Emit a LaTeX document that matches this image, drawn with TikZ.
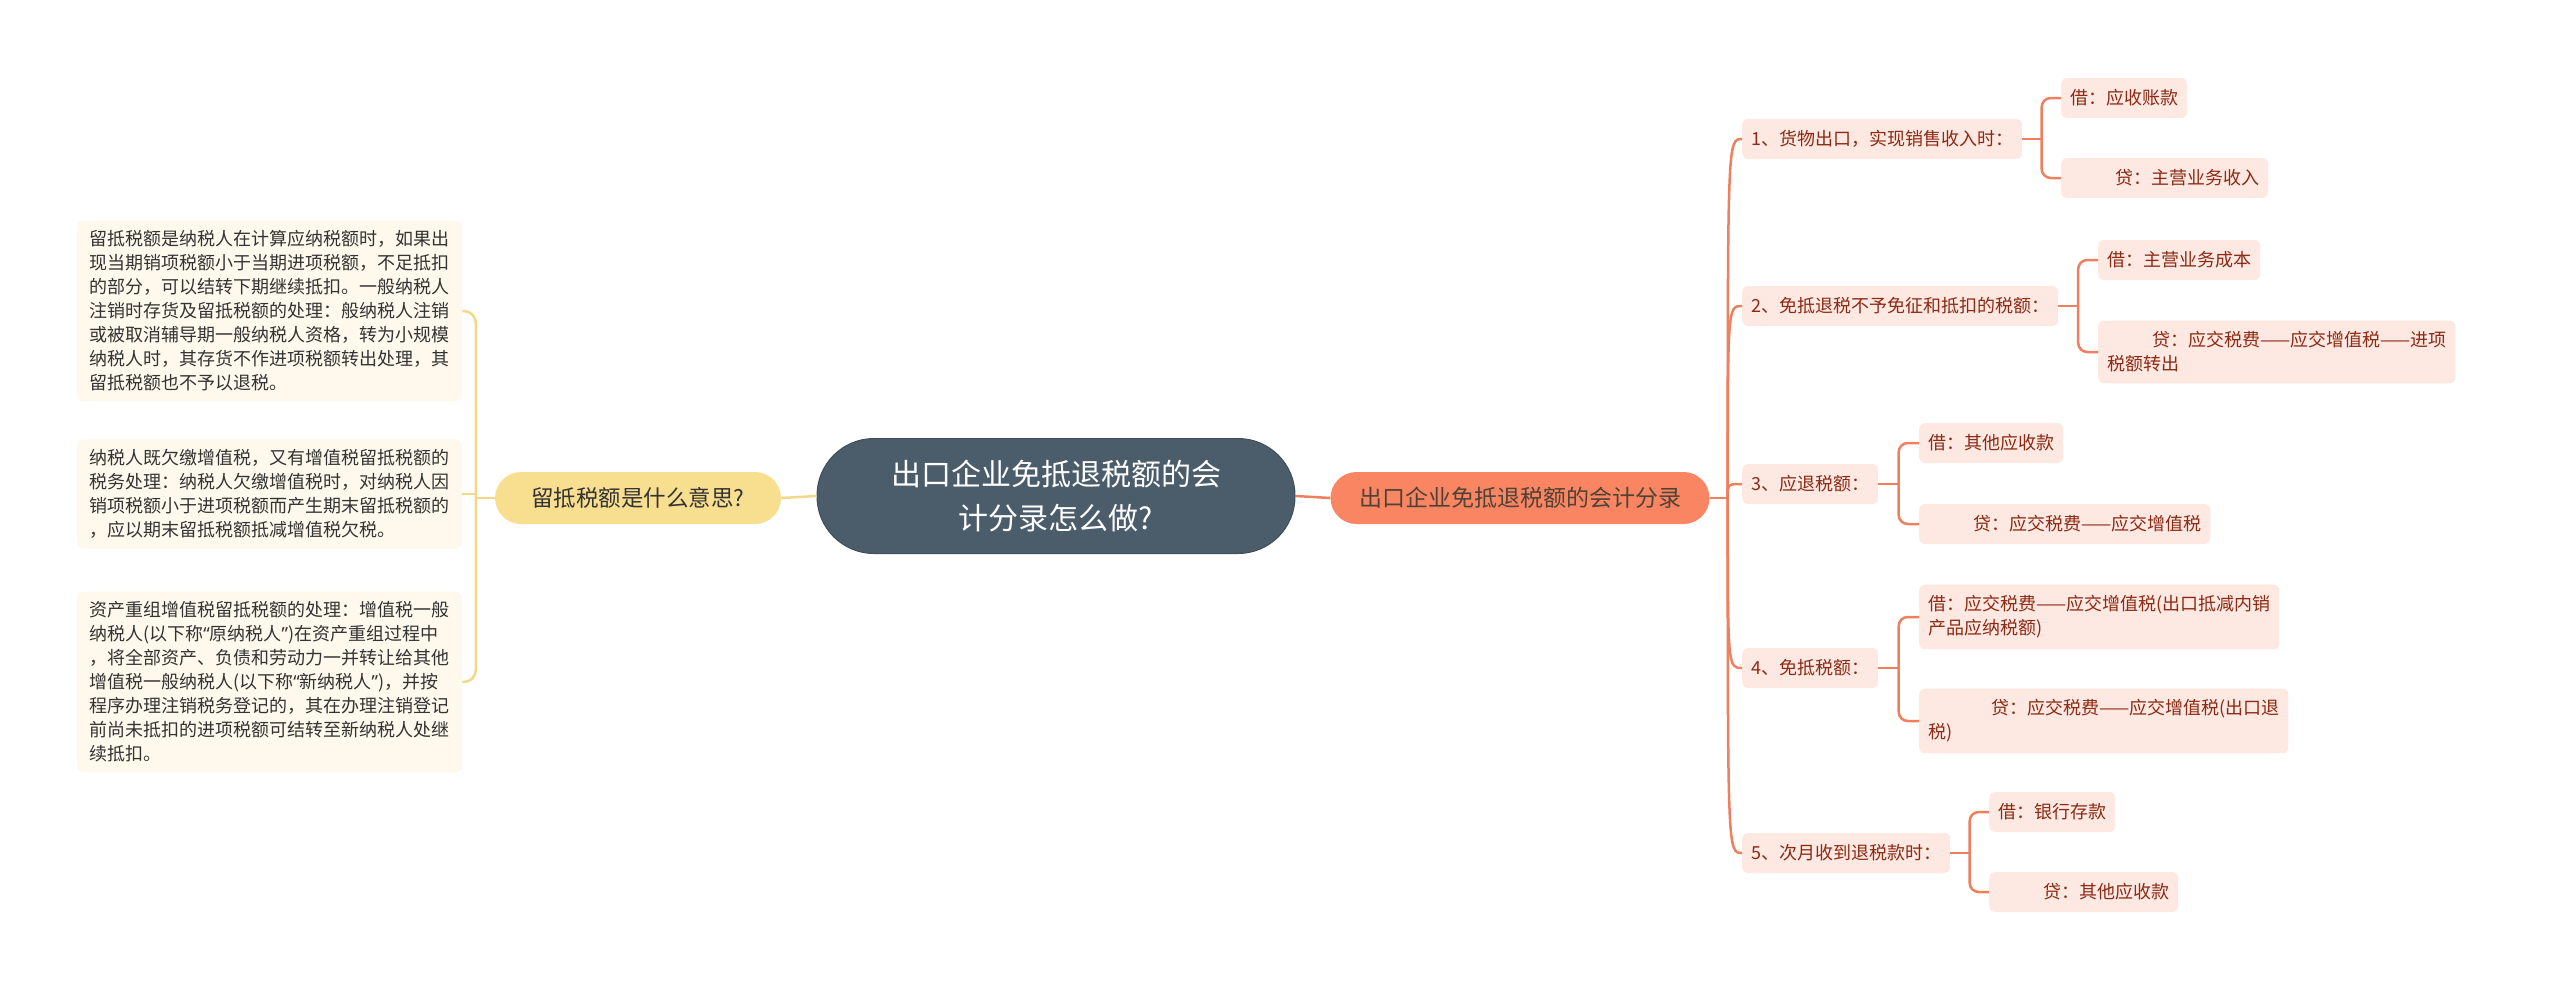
\documentclass[tikz,border=0pt]{standalone}
\usepackage{fontspec}
\setmainfont{Noto Sans CJK SC}
\newfontfamily\quotefont{Noto Sans}
\newcommand{\qopen}{{\quotefont “}}
\newcommand{\qclose}{{\quotefont ”}}
\usetikzlibrary{calc}

\definecolor{rootfill}{HTML}{4B5C6B}
\definecolor{rootedge}{HTML}{3F4E5B}
\definecolor{topicfill}{HTML}{F8DE8F}
\definecolor{yeline}{HTML}{F4D88A}
\definecolor{notefill}{HTML}{FEF9EC}
\definecolor{notetext}{HTML}{333333}
\definecolor{branchfill}{HTML}{FA8563}
\definecolor{orline}{HTML}{EE7F5F}
\definecolor{entryfill}{HTML}{FDE8E2}
\definecolor{entrytext}{HTML}{8C2A14}

\begin{document}
\begin{tikzpicture}[x=1pt,y=-1pt,
    note/.style={fill=notefill, rounded corners=6pt, text=notetext, align=left,
        text width=361pt, inner xsep=12pt, inner ysep=10pt, anchor=west,
        font=\fontsize{18}{24}\selectfont},
    entry/.style={fill=entryfill, rounded corners=6pt, text=entrytext, align=left,
        minimum height=40pt, inner xsep=9pt, inner ysep=11pt, anchor=west,
        font=\fontsize{18}{24}\selectfont},
    pill/.style={rounded corners=26pt, minimum height=52pt, align=center},
    yelink/.style={draw=yeline, line width=2.5pt},
    orlink/.style={draw=orline, line width=2.5pt}]

    \useasboundingbox (0,0) rectangle (2560,993);

    % Centre
    \node [pill, fill=rootfill, draw=rootedge, line width=1pt, text=white,
        rounded corners=57pt, minimum width=478pt, minimum height=115pt,
        font=\fontsize{30}{44}\selectfont] (root) at (1056,496)
        {出口企业免抵退税额的会\\计分录怎么做?};

    % Left side
    \node [pill, fill=topicfill, text=notetext, minimum width=286pt,
        font=\fontsize{22.5}{27}\selectfont] (topic) at (638,498) {留抵税额是什么意思?};

    \node [note] (note1) at (77,311) {留抵税额是纳税人在计算应纳税额时，如果出\\现当期销项税额小于当期进项税额，不足抵扣\\的部分，可以结转下期继续抵扣。一般纳税人\\注销时存货及留抵税额的处理：般纳税人注销\\或被取消辅导期一般纳税人资格，转为小规模\\纳税人时，其存货不作进项税额转出处理，其\\留抵税额也不予以退税。};
    \node [note] (note2) at (77,494) {纳税人既欠缴增值税，又有增值税留抵税额的\\税务处理：纳税人欠缴增值税时，对纳税人因\\销项税额小于进项税额而产生期末留抵税额的\\，应以期末留抵税额抵减增值税欠税。};
    \node [note] (note3) at (77,682) {资产重组增值税留抵税额的处理：增值税一般\\纳税人(以下称\qopen 原纳税人\qclose)在资产重组过程中\\，将全部资产、负债和劳动力一并转让给其他\\增值税一般纳税人(以下称\qopen 新纳税人\qclose)，并按\\程序办理注销税务登记的，其在办理注销登记\\前尚未抵扣的进项税额可结转至新纳税人处继\\续抵扣。};

    \draw [yelink] (root.west) -- (topic.east);
    \coordinate (lj) at ($(topic.west)+(-19,0)$);
    \draw [yelink] (topic.west) -- (lj);
    \draw [yelink, rounded corners=12pt] (note1.east) -| (lj) |- (note3.east);
    \draw [yelink] (note2.east) -- (note2.east -| lj);

    % Right side
    \node [pill, fill=branchfill, text=notetext!80!brown, minimum width=379pt,
        font=\fontsize{23}{27}\selectfont] (branch) at (1520,498) {出口企业免抵退税额的会计分录};
    \draw [orlink] (root.east) -- (branch.west);

    \node [entry] (n1) at (1742,139) {1、货物出口，实现销售收入时：};
    \node [entry] (deb1) at (2061,98) {借：应收账款};
    \node [entry] (cre1) at (2061,178) {\hspace*{2.5em}贷：主营业务收入};

    \node [entry] (n2) at (1742,306) {2、免抵退税不予免征和抵扣的税额：};
    \node [entry] (deb2) at (2098,260) {借：主营业务成本};
    \node [entry] (cre2) at (2098,352) {\hspace*{2.5em}贷：应交税费——应交增值税——进项\\税额转出};

    \node [entry] (n3) at (1742,484) {3、应退税额：};
    \node [entry] (deb3) at (1919,443) {借：其他应收款};
    \node [entry] (cre3) at (1919,524) {\hspace*{2.5em}贷：应交税费——应交增值税};

    \node [entry] (n4) at (1742,668) {4、免抵税额：};
    \node [entry] (deb4) at (1919,617) {借：应交税费——应交增值税(出口抵减内销\\产品应纳税额)};
    \node [entry] (cre4) at (1919,721) {\hspace*{3.5em}贷：应交税费——应交增值税(出口退\\税)};

    \node [entry] (n5) at (1742,853) {5、次月收到退税款时：};
    \node [entry] (deb5) at (1989,812) {借：银行存款};
    \node [entry] (cre5) at (1989,892) {\hspace*{2.5em}贷：其他应收款};

    \coordinate (rj) at ($(branch.east)+(18,0)$);
    \draw [orlink] (branch.east) -- (rj);

    \foreach \i in {1,...,5} {
        \draw [orlink] (rj) .. controls (rj |- n\i.west) .. (n\i.west);
        \coordinate (t\i) at ($(n\i.east)!0.5!(n\i.east -| deb\i.west)$);
        \draw [orlink] (n\i.east) -- (t\i);
        \draw [orlink, rounded corners=9pt] (deb\i.west) -| (t\i) |- (cre\i.west);
    }

\end{tikzpicture}
\end{document}
